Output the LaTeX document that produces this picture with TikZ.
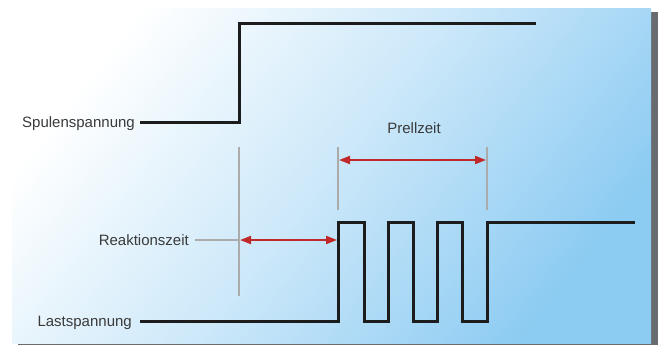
\documentclass[tikz,border=0pt]{standalone}
\usepackage{fontspec}
\setmainfont{Liberation Sans}
\usetikzlibrary{arrows.meta}
\definecolor{txtgray}{HTML}{3A3A3A}
\definecolor{sigblack}{HTML}{1C1C1C}
\definecolor{guidegray}{HTML}{ABABAB}
\definecolor{arrowred}{HTML}{C0282A}
\definecolor{panelblue}{HTML}{8CCBF2}
\definecolor{shadowgray}{HTML}{686C70}
\tikzset{
  lbl/.style={inner sep=0pt, text=txtgray, font=\fontsize{15bp}{18bp}\selectfont},
  signal/.style={line width=3bp, draw=sigblack, line join=miter},
  guide/.style={line width=1.4bp, draw=guidegray},
  span/.style={line width=2bp, draw=arrowred,
    {Triangle[length=11bp,width=8bp]}-{Triangle[length=11bp,width=8bp]}, shorten <=1bp, shorten >=1bp}
}
\begin{document}
\begin{tikzpicture}[x=1bp,y=-1bp]
		\useasboundingbox (0,0) rectangle (664,345);
		\def\shadowbox{(18,12) rectangle (658,345)}
		\def\panel{(12,8) rectangle (651,343)}
		\fill[shadowgray] \shadowbox;
		\shade[top color=white, bottom color=panelblue, middle color=panelblue!45, shading angle=52] \panel;
		% labels
		\node[lbl, anchor=base east] (spule) at (135,127.5) {Spulenspannung};
		\node[lbl, anchor=base east] (last) at (132,326.4) {Lastspannung};
		\node[lbl, anchor=base east] (reakt) at (189,245.4) {Reaktionszeit};
		\node[lbl, anchor=base] (prell) at (414,133.4) {Prellzeit};
		% guide lines
		\coordinate (on) at (239,147);
		\coordinate (bstart) at (338,147);
		\coordinate (bend) at (487,147);
		\draw[guide] (on) -- ++(0,149);
		\draw[guide] (bstart) -- ++(0,63);
		\draw[guide] (bend) -- ++(0,63);
		\draw[guide] (reakt.east |- 0,240) ++(6,0) -- (on |- 0,240);
		% spans
		\draw[span] (on |- 0,240) -- (bstart |- 0,240);
		\draw[span] (bstart |- 0,160) -- (bend |- 0,160);
		% coil voltage
		\draw[signal] (140,122) -- (239,122) -- (239,23) -- (536,23);
		% load voltage with bouncing
		\draw[signal] (140,321) -- (338,321) -- (338,222) -- (364,222) -- (364,321)
			-- (388,321) -- (388,222) -- (413,222) -- (413,321)
			-- (437,321) -- (437,222) -- (462,222) -- (462,321)
			-- (487,321) -- (487,222) -- (635,222);
	\end{tikzpicture}
\end{document}
